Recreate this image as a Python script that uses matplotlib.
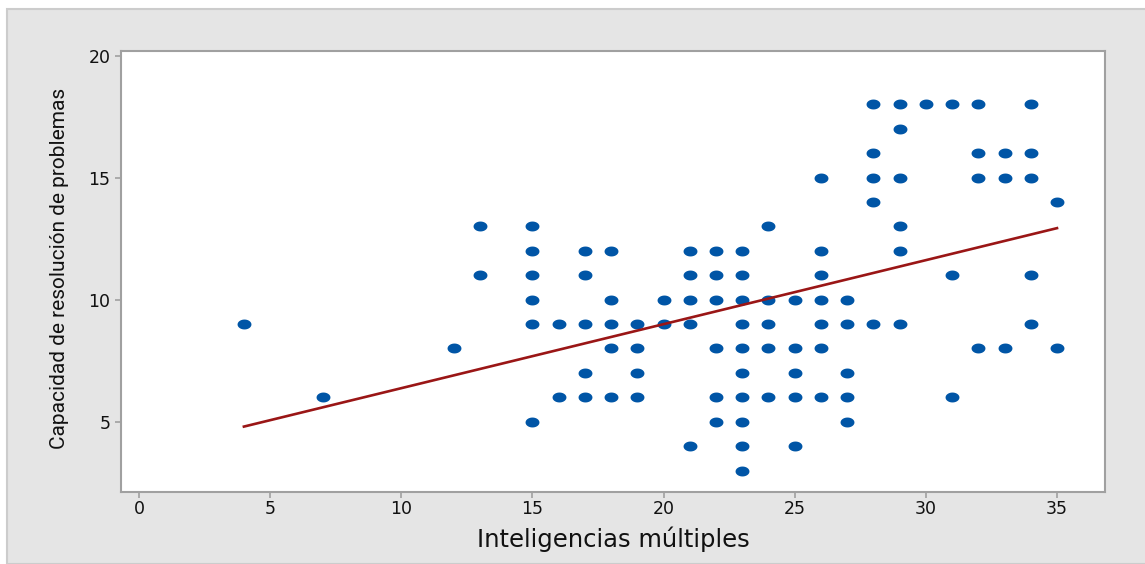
import matplotlib
matplotlib.use('Agg')
import matplotlib.pyplot as plt
import numpy as np
from matplotlib.path import Path
from matplotlib.patches import Rectangle

# Inteligencias múltiples (x) vs capacidad de resolución de problemas (y)
intel = [4, 7, 12, 13, 13,
         15, 15, 15, 15, 15, 15, 16, 16,
         17, 17, 17, 17, 17, 18, 18, 18, 18, 18,
         19, 19, 19, 19, 20, 20,
         21, 21, 21, 21, 21, 22, 22, 22, 22, 22, 22,
         23, 23, 23, 23, 23, 23, 23, 23, 23, 23,
         24, 24, 24, 24, 24, 25, 25, 25, 25, 25,
         26, 26, 26, 26, 26, 26, 26, 27, 27, 27, 27, 27,
         28, 28, 28, 28, 28, 29, 29, 29, 29, 29, 29,
         30, 31, 31, 31, 32, 32, 32, 32, 33, 33, 33,
         34, 34, 34, 34, 34, 35, 35]
capac = [9, 6, 8, 13, 11,
         13, 12, 11, 10, 9, 5, 9, 6,
         12, 11, 9, 7, 6, 12, 10, 9, 8, 6,
         9, 8, 7, 6, 10, 9,
         12, 11, 10, 9, 4, 12, 11, 10, 8, 6, 5,
         12, 11, 10, 9, 8, 7, 6, 5, 4, 3,
         13, 10, 9, 8, 6, 10, 8, 7, 6, 4,
         15, 12, 11, 10, 9, 8, 6, 10, 9, 7, 6, 5,
         18, 16, 15, 14, 9, 18, 17, 15, 13, 12, 9,
         18, 18, 11, 6, 18, 16, 15, 8, 16, 15, 8,
         18, 16, 15, 11, 9, 14, 8]

# fitted regression line
b0 = 3.751
b1 = 0.2623

xticks = [0, 5, 10, 15, 20, 25, 30, 35]
yticks = [5, 10, 15, 20]

# horizontally stretched ellipse marker
t = np.linspace(0, 2 * np.pi, 60)
ellipse = Path(np.column_stack([1.4 * np.cos(t), np.sin(t)]), closed=True)

fig = plt.figure(figsize=(11.45, 5.64), dpi=100, facecolor='white')
fig.patches.append(Rectangle((7 / 1145, 0), 1, 1 - 9 / 564, transform=fig.transFigure,
                             facecolor='#e5e5e5', edgecolor='#cccccc', lw=1.5, zorder=-10))

ax = fig.add_axes([121 / 1145, 1 - 492 / 564, 984 / 1145, 441 / 564])
ax.set_facecolor('white')

ax.plot(intel, capac, linestyle='none', marker=ellipse, markersize=10,
        color='#0055a6', markeredgewidth=0)
xs = np.array([min(intel), max(intel)])
ax.plot(xs, b0 + b1 * xs, color='#9a1616', lw=1.9)

ax.set_xlim(-0.686, 36.83)
ax.set_ylim(2.12, 20.19)
ax.set_xticks(xticks)
ax.set_yticks(yticks)

for s in ax.spines.values():
    s.set_color('#a0a0a0')
    s.set_linewidth(1.5)
ax.tick_params(axis='both', direction='out', length=4, width=1.2, color='#a0a0a0',
               labelsize=12.5, labelcolor='#111111')
ax.tick_params(axis='x', pad=2)
ax.tick_params(axis='y', pad=3.5)

ax.set_xlabel('Inteligencias múltiples', fontsize=17.5, color='#111111')
ax.set_ylabel('Capacidad de resolución de problemas', fontsize=15,
              family=['Roboto', 'DejaVu Sans'], color='#111111')
ax.xaxis.set_label_coords(0.5, -0.079)
ax.yaxis.set_label_coords(-0.053, 0.507)

fig.savefig('out.png', dpi=100, facecolor=fig.get_facecolor())
